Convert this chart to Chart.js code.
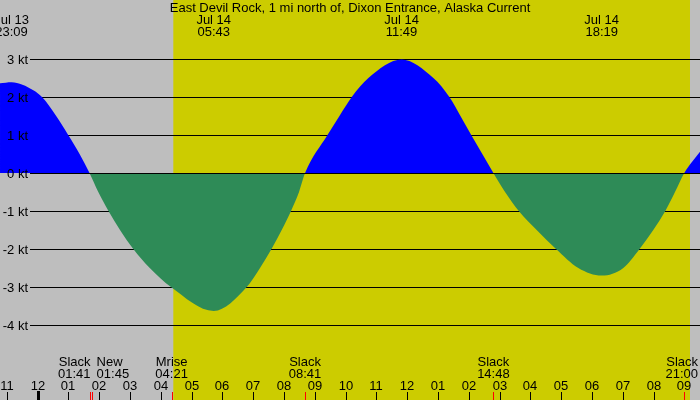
<!DOCTYPE html>
<html>
<head>
<meta charset="utf-8">
<script src="https://cdn.jsdelivr.net/npm/chart.js@4/dist/chart.umd.min.js"></script>
<style>
  html, body { margin: 0; padding: 0; background: #bebebe; }
  canvas { display: block; }
</style>
</head>
<body>
<canvas id="tideChart" width="700" height="400"></canvas>
<script>
// hours are counted from Jul 14 00:00
const titleText = 'East Devil Rock, 1 mi north of, Dixon Entrance, Alaska Current';

// current speed (kt)
const flowHours = [
    -1.224, -0.85, -0.143, 0.14, 0.60, 0.99, 1.36, 1.683, 1.968, 2.299, 2.673, 3.105, 3.64, 4.329,
    5.717, 6.788, 7.22, 7.593, 7.925, 8.227, 8.487, 8.683,
    9.412, 9.80, 10.20, 10.74, 11.817, 12.85, 13.37, 13.73, 14.08, 14.44, 14.8,
    15.178, 15.625, 16.206, 16.833, 17.558, 18.317, 19.019, 19.548, 19.993, 20.383, 20.698, 21.0, 21.51
];
const flowKnots = [
    2.36, 2.39, 2.18, 2.0, 1.5, 1.0, 0.5, 0, -0.5, -1, -1.5, -2, -2.5, -3,
    -3.63, -3, -2.5, -2, -1.5, -1, -0.5, 0,
    1, 1.5, 2, 2.5, 2.99, 2.5, 2, 1.5, 1, 0.5, 0,
    -0.5, -1, -1.5, -2, -2.5, -2.70, -2.5, -2, -1.5, -1, -0.5, 0, 0.56
];

// max / min current events on top
const peakDates = ['Jul 13', 'Jul 14', 'Jul 14', 'Jul 14'];
const peakTimes = ['23:09', '05:43', '11:49', '18:19'];
const peakHours = [-0.85, 5.717, 11.817, 18.317];

// slack, moon events at the bottom
const eventNames = ['Slack', 'New', 'Mrise', 'Slack', 'Slack', 'Slack'];
const eventTimes = ['01:41', '01:45', '04:21', '08:41', '14:48', '21:00'];

// daylight
const sunrise = 4.404;
const sunset = 21.185;

const knotTicks = [3, 2, 1, 0, -1, -2, -3, -4];
const hourTicks = Array.from({ length: 23 }, (_, i) => i - 1);

const FONT = '13px "Liberation Sans", Arial, sans-serif';

function toHours(hhmm) {
    const [h, m] = hhmm.split(':').map(Number);
    return h + m / 60;
}

function hourLabel(h) {
    const v = ((h % 12) + 12) % 12;
    return v === 0 ? '12' : String(v).padStart(2, '0');
}

const decorations = {
    id: 'decorations',
    beforeDraw(chart) {
        const { ctx, scales: { x } } = chart;
        ctx.save();
        ctx.fillStyle = '#bebebe';
        ctx.fillRect(0, 0, chart.width, chart.height);
        ctx.fillStyle = '#cccc00';
        const x1 = x.getPixelForValue(sunrise);
        const x2 = x.getPixelForValue(sunset);
        ctx.fillRect(x1, 0, x2 - x1, chart.height);
        ctx.restore();
    },
    beforeDatasetsDraw(chart) {
        const { ctx, scales: { y } } = chart;
        ctx.save();
        ctx.strokeStyle = '#000';
        ctx.lineWidth = 1;
        knotTicks.forEach(k => {
            const py = Math.round(y.getPixelForValue(k)) + 0.5;
            ctx.beginPath();
            ctx.moveTo(30, py);
            ctx.lineTo(chart.width, py);
            ctx.stroke();
        });
        ctx.restore();
    },
    afterDatasetsDraw(chart) {
        const { ctx, scales: { x, y } } = chart;
        ctx.save();
        ctx.font = FONT;
        ctx.fillStyle = '#000';
        ctx.textBaseline = 'alphabetic';

        // zero line on top of the fill
        const zy = Math.round(y.getPixelForValue(0)) + 0.5;
        ctx.strokeStyle = '#000';
        ctx.lineWidth = 1;
        ctx.beginPath();
        ctx.moveTo(30, zy);
        ctx.lineTo(chart.width, zy);
        ctx.stroke();

        // knot labels
        ctx.textAlign = 'right';
        knotTicks.forEach(k => {
            ctx.fillText(k + ' kt', 28, Math.round(y.getPixelForValue(k)) + 5);
        });

        // title + peaks
        ctx.textAlign = 'center';
        ctx.fillText(titleText, chart.width / 2, 12);
        peakHours.forEach((h, i) => {
            const px = x.getPixelForValue(h);
            ctx.fillText(peakDates[i], px, 24);
            ctx.fillText(peakTimes[i], px, 36);
        });

        // hour ticks
        hourTicks.forEach(h => {
            const px = Math.round(x.getPixelForValue(h));
            ctx.textAlign = 'center';
            ctx.fillText(hourLabel(h), px, 390);
            if (h === 0) {
                ctx.fillRect(px - 1, 391, 3, 9);
            } else {
                ctx.fillRect(px, 392, 1, 8);
            }
        });

        // events
        const evX = eventTimes.map(t => x.getPixelForValue(toHours(t)));
        ctx.fillStyle = '#ff0000';
        evX.forEach(px => ctx.fillRect(Math.round(px), 392, 1, 8));
        ctx.fillStyle = '#000';
        evX.forEach((px, i) => {
            let ax = px;
            let align = 'center';
            if (i + 1 < evX.length && evX[i + 1] - px < 20) {
                align = 'right';
                ax = px + 1;
            } else if (i > 0 && px - evX[i - 1] < 20) {
                align = 'left';
                ax = px + 5;
            }
            const w = Math.max(ctx.measureText(eventNames[i]).width, ctx.measureText(eventTimes[i]).width);
            if (align === 'center' && px + w / 2 > chart.width - 2) {
                align = 'right';
                ax = chart.width - 2;
            }
            ctx.textAlign = align;
            ctx.fillText(eventNames[i], ax, 366);
            ctx.fillText(eventTimes[i], ax, 378);
        });
        ctx.restore();
    }
};

const ctx = document.getElementById('tideChart').getContext('2d');
new Chart(ctx, {
    type: 'line',
    data: {
        datasets: [{
            label: 'Current',
            data: flowHours.map((h, i) => ({ x: h, y: flowKnots[i] })),
            borderWidth: 0,
            borderColor: 'rgba(0,0,0,0)',
            pointRadius: 0,
            cubicInterpolationMode: 'monotone',
            fill: {
                target: 'origin',
                above: '#0000ff',
                below: '#2e8b57'
            }
        }]
    },
    options: {
        responsive: false,
        animation: false,
        devicePixelRatio: 1,
        layout: { padding: 0 },
        scales: {
            x: { type: 'linear', min: -1.2244, max: 21.51, display: false },
            y: { min: -5.974, max: 4.553, display: false }
        },
        plugins: {
            legend: { display: false },
            tooltip: { enabled: false }
        }
    },
    plugins: [decorations]
});
</script>
</body>
</html>
